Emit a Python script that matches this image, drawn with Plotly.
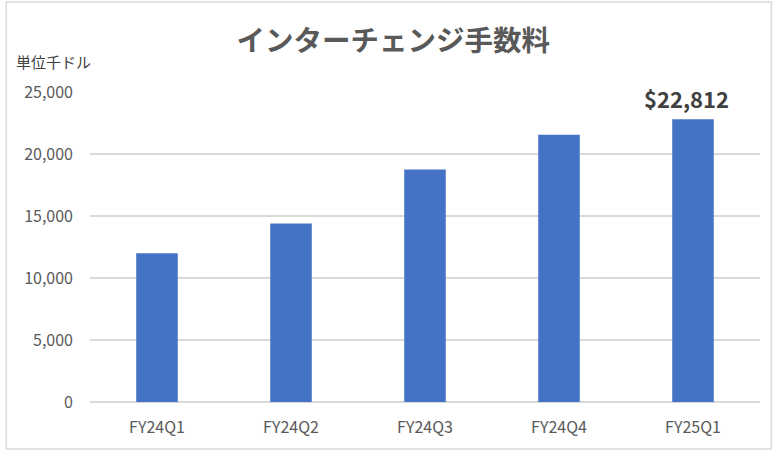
import plotly.graph_objects as go

# quarterly interchange fees (thousand USD)
quarters = ['FY24Q1', 'FY24Q2', 'FY24Q3', 'FY24Q4', 'FY25Q1']
fees = [12000, 14400, 18740, 21550, 22812]
y_ticks = [0, 5000, 10000, 15000, 20000, 25000]

title_text = 'インターチェンジ手数料'
unit_text = '単位千ドル'
last_label = '$22,812'

jp_font = 'Noto Sans CJK JP'
gray = '#595959'

fig = go.Figure()
fig.add_trace(go.Bar(
    x=quarters,
    y=fees,
    marker=dict(color='#4472c4', line=dict(width=0)),
    width=0.31,
    hoverinfo='x+y',
))

# label only the latest quarter
fig.add_annotation(
    x=quarters[-1], y=fees[-1],
    text='<b>' + last_label + '</b>',
    showarrow=False, yanchor='bottom', yshift=3, xshift=-7,
    font=dict(family=jp_font, size=22, color='#404040'),
)

fig.add_annotation(
    x=-0.113, xref='paper', xanchor='left',
    y=1.097, yref='paper', yanchor='middle',
    text=unit_text, showarrow=False,
    font=dict(family=jp_font, size=15, color='#404040'),
)

# outer chart border
fig.add_shape(
    type='rect', xref='paper', yref='paper',
    x0=-0.125, x1=1.017, y0=-0.152, y1=1.29,
    line=dict(color='#d9d9d9', width=1.5),
)

fig.update_layout(
    width=777, height=452,
    margin=dict(l=90, r=17, t=92, b=50),
    paper_bgcolor='white', plot_bgcolor='white',
    title=dict(text='<b>' + title_text + '</b>', x=0.506, xanchor='center',
               y=0.909, yanchor='middle',
               font=dict(family=jp_font, size=28.5, color=gray)),
    font=dict(family=jp_font, color=gray, size=15),
    showlegend=False,
    bargap=0.69,
)
fig.update_yaxes(
    range=[0, 25000], tickvals=y_ticks, tickformat=',d',
    showgrid=True, gridcolor='#d9d9d9', gridwidth=1.5,
    zeroline=True, zerolinecolor='#d9d9d9', zerolinewidth=1.5,
    showline=False, ticklabelstandoff=16,
    tickfont=dict(size=16, color=gray),
)
fig.update_xaxes(
    showline=False, showgrid=False, ticklabelstandoff=14,
    tickfont=dict(size=16, color=gray),
)

# drop the browser's default body margin so the chart sits at the corner
fig.write_html('out.html', config={'displayModeBar': False},
               post_script="document.body.style.margin='0';")
